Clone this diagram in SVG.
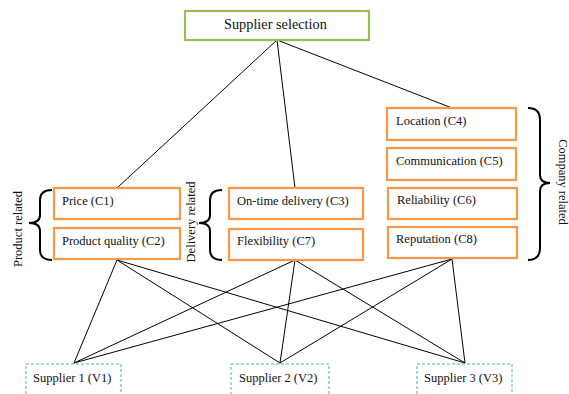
<svg xmlns="http://www.w3.org/2000/svg" width="569" height="394" viewBox="0 0 569 394">
<style>
text{font-family:"Liberation Serif","Times New Roman",serif;font-size:12.5px;fill:#111}
.crit{fill:#fff;stroke:#F79646;stroke-width:2.2}
.goal{fill:#fff;stroke:#9BBB59;stroke-width:2.2}
.alt{fill:#fff;stroke:#4BACC6;stroke-width:1;stroke-dasharray:3,2}
.ln{stroke:#000;stroke-width:1;fill:none}
.br{stroke:#000;stroke-width:2;fill:none}
</style>
<rect width="569" height="394" fill="#fff"/>
<g id="connectors">
<path class="ln" d="M277,40L117,188M277,40L295,188M277,40L452,108"/>
<path class="ln" d="M117,260L74,363M117,260L280,363M117,260L465,363"/>
<path class="ln" d="M295,260L74,363M295,260L280,363M295,260L465,363"/>
<path class="ln" d="M452,259L74,363M452,259L280,363M452,259L465,363"/>
</g>
<g id="goal"><rect class="goal" x="185" y="11" width="184" height="29"/><text x="224" y="29" style="font-size:14.3px">Supplier selection</text></g>
<g id="c1"><rect class="crit" x="54" y="188" width="126" height="31"/><text x="62" y="205">Price (C1)</text></g>
<g id="c2"><rect class="crit" x="54" y="228" width="126" height="31"/><text x="62" y="245">Product quality (C2)</text></g>
<g id="c3"><rect class="crit" x="229" y="188" width="134" height="31"/><text x="237" y="205">On-time delivery (C3)</text></g>
<g id="c7"><rect class="crit" x="229" y="229" width="134" height="31"/><text x="237" y="245">Flexibility (C7)</text></g>
<g id="c4"><rect class="crit" x="387" y="108" width="129" height="32"/><text x="396" y="125">Location (C4)</text></g>
<g id="c5"><rect class="crit" x="387" y="148" width="129" height="32"/><text x="396" y="165">Communication (C5)</text></g>
<g id="c6"><rect class="crit" x="388" y="188" width="129" height="31"/><text x="397" y="204">Reliability (C6)</text></g>
<g id="c8"><rect class="crit" x="388" y="227" width="129" height="31"/><text x="396" y="243">Reputation (C8)</text></g>
<g id="v1"><rect class="alt" x="26" y="364" width="95" height="40"/><text x="33" y="382">Supplier 1 (V1)</text></g>
<g id="v2"><rect class="alt" x="231" y="364" width="98" height="40"/><text x="239" y="382">Supplier 2 (V2)</text></g>
<g id="v3"><rect class="alt" x="417" y="364" width="95" height="40"/><text x="424" y="382">Supplier 3 (V3)</text></g>
<g id="product-group">
<path class="br" d="M52,190Q40,190 40,200L40,215Q40,223 29,223Q40,223 40,231L40,250Q40,260 52,260"/>
<text transform="translate(22,229) rotate(-90)" text-anchor="middle">Product related</text>
</g>
<g id="delivery-group">
<path class="br" d="M222,190Q210,190 210,200L210,215Q210,223 199,223Q210,223 210,231L210,250Q210,260 222,260"/>
<text transform="translate(195,222) rotate(-90)" text-anchor="middle">Delivery related</text>
</g>
<g id="company-group">
<path class="br" d="M528,108Q540,108 540,120L540,175Q540,183 550,183Q540,183 540,191L540,248Q540,260 528,260"/>
<text transform="translate(559,182) rotate(90)" text-anchor="middle">Company related</text>
</g>
</svg>
